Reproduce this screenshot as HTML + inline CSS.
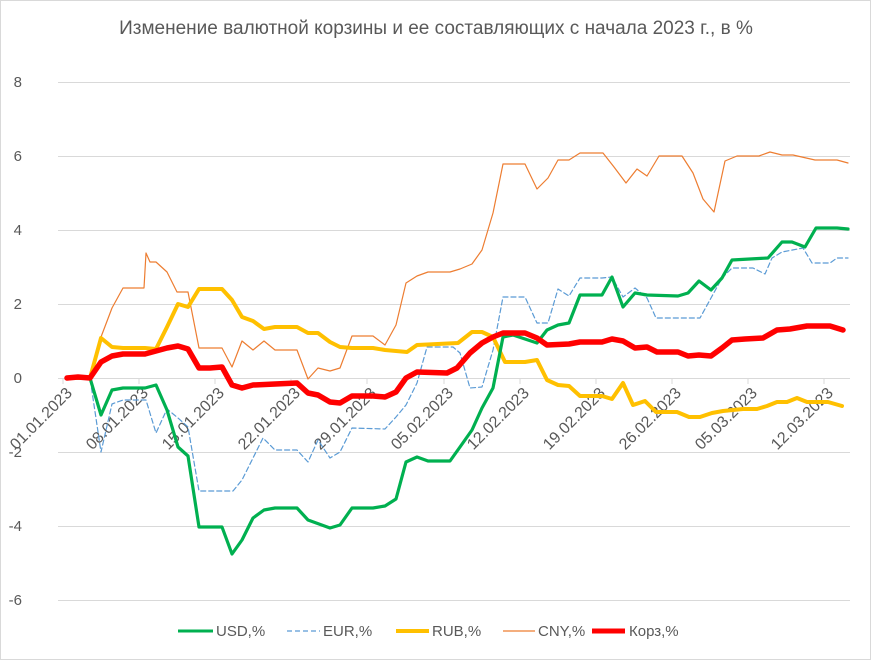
<!DOCTYPE html>
<html><head><meta charset="utf-8"><style>
body{margin:0;background:#fff}
svg{display:block;font-family:"Liberation Sans","DejaVu Sans",sans-serif}
</style></head><body>
<svg width="872" height="661" viewBox="0 0 872 661" xmlns="http://www.w3.org/2000/svg">
<rect x="0.5" y="0.5" width="870" height="659" fill="#fff" stroke="#d9d9d9"/>
<text x="436" y="34" text-anchor="middle" font-size="19" fill="#595959">Изменение валютной корзины и ее составляющих с начала 2023 г., в %</text>
<g stroke="#d9d9d9" stroke-width="1">
<line x1="58" y1="82.5" x2="850" y2="82.5"/>
<line x1="58" y1="156.5" x2="850" y2="156.5"/>
<line x1="58" y1="230.5" x2="850" y2="230.5"/>
<line x1="58" y1="304.5" x2="850" y2="304.5"/>
<line x1="58" y1="378.5" x2="850" y2="378.5"/>
<line x1="58" y1="452.5" x2="850" y2="452.5"/>
<line x1="58" y1="526.5" x2="850" y2="526.5"/>
<line x1="58" y1="600.5" x2="850" y2="600.5"/>
<line x1="63" y1="378" x2="63" y2="384"/><line x1="139" y1="378" x2="139" y2="384"/><line x1="215" y1="378" x2="215" y2="384"/><line x1="291" y1="378" x2="291" y2="384"/><line x1="367" y1="378" x2="367" y2="384"/><line x1="444" y1="378" x2="444" y2="384"/><line x1="520" y1="378" x2="520" y2="384"/><line x1="596" y1="378" x2="596" y2="384"/><line x1="672" y1="378" x2="672" y2="384"/><line x1="748" y1="378" x2="748" y2="384"/><line x1="824" y1="378" x2="824" y2="384"/>
</g>
<g font-size="15" fill="#595959" text-anchor="end">
<text x="22" y="87">8</text><text x="22" y="161">6</text><text x="22" y="235">4</text><text x="22" y="309">2</text><text x="22" y="383">0</text><text x="22" y="457">-2</text><text x="22" y="531">-4</text><text x="22" y="605">-6</text>
</g>
<g font-size="16" fill="#595959" text-anchor="end">
<text transform="translate(73,394) rotate(-45)">01.01.2023</text>
<text transform="translate(149,394) rotate(-45)">08.01.2023</text>
<text transform="translate(225,394) rotate(-45)">15.01.2023</text>
<text transform="translate(301,394) rotate(-45)">22.01.2023</text>
<text transform="translate(377,394) rotate(-45)">29.01.2023</text>
<text transform="translate(454,394) rotate(-45)">05.02.2023</text>
<text transform="translate(530,394) rotate(-45)">12.02.2023</text>
<text transform="translate(606,394) rotate(-45)">19.02.2023</text>
<text transform="translate(682,394) rotate(-45)">26.02.2023</text>
<text transform="translate(758,394) rotate(-45)">05.03.2023</text>
<text transform="translate(834,394) rotate(-45)">12.03.2023</text>
</g>
<g fill="none" stroke-linejoin="round" stroke-linecap="round">
<polyline stroke="#ed7d31" stroke-width="1.2" points="68,378 90,378 101,337 112,308 123,288 144,288 146,253 150,262 156,262 167,272 177,292 188,292 199,348 222,348 232,367 242,341 253,350 264,341 275,350 297,350 308,379 318,368 330,371 340,368 352,336 373,336 385,345 396,325 406,283 417,276 428,272 450,272 460,269 472,264 482,250 493,213 503,164 525,164 537,189 548,178 558,160 569,160 580,153 603,153 614,167 626,183 637,169 647,176 659,156 682,156 693,173 703,199 714,212 725,161 737,156 759,156 770,152 782,155 793,155 815,160 837,160 848,163"/>
<polyline stroke="#5b9bd5" stroke-width="1.2" stroke-dasharray="5,3" points="68,378 90,378 101,452 112,404 123,400 146,400 156,433 167,409 178,418 188,427 199,491 233,491 242,480 263,438 275,450 297,450 308,462 318,440 330,458 340,452 352,428 385,429 396,417 406,405 417,383 427,347 453,347 460,353 470,388 482,387 493,350 503,297 525,297 537,323 548,323 558,289 569,296 580,278 602,278 612,277 623,297 635,288 647,298 656,318 700,318 711,298 722,278 732,268 753,268 765,274 772,258 782,252 803,248 812,263 830,263 837,258 848,258"/>
<polyline stroke="#ffc000" stroke-width="4" points="68,378 90,378 101,338 112,347 123,348 145,348 156,349 167,327 178,304 188,307 199,289 222,289 232,300 242,317 253,321 264,329 275,327 297,327 308,333 318,333 330,342 340,347 352,348 373,348 385,350 407,352 417,345 458,343 472,332 482,332 493,337 505,362 525,362 537,360 547,380 558,385 569,386 580,396 602,396 612,399 623,383 633,405 645,401 656,412 677,412 689,417 700,417 712,413 723,411 743,409 757,409 767,406 777,402 787,402 797,398 807,402 828,402 842,406"/>
<polyline stroke="#00b050" stroke-width="3.2" points="68,378 90,378 101,415 112,390 123,388 145,388 156,385 167,410 178,447 188,456 199,527 222,527 232,554 242,540 253,518 264,510 275,508 297,508 308,520 330,528 340,525 352,508 373,508 385,506 396,499 406,462 417,457 428,461 450,461 460,447 472,430 482,408 493,388 503,337 513,335 537,343 547,330 558,325 569,323 580,295 602,295 612,277 623,307 635,293 647,295 678,296 688,293 699,281 711,290 722,278 732,260 768,258 782,242 792,242 805,247 816,228 837,228 848,229"/>
<polyline stroke="#ff0000" stroke-width="5.5" points="67,378 78,377 90,378 101,362 112,356 123,354 145,354 156,351 167,348 178,346 188,349 199,368 210,368 222,367 232,385 242,388 253,385 297,383 308,393 318,395 330,402 340,403 352,396 373,396 385,397 396,392 406,378 417,372 447,373 457,368 470,353 482,343 493,337 503,333 525,333 537,338 547,345 569,344 580,342 602,342 612,339 623,341 635,348 647,347 657,352 678,352 688,356 699,355 711,356 722,348 732,340 745,339 763,338 777,330 790,329 807,326 830,326 843,330"/>
</g>
<g font-size="15" fill="#595959">
<line x1="178" y1="631" x2="213" y2="631" stroke="#00b050" stroke-width="3"/><text x="216" y="636">USD,%</text>
<line x1="287" y1="631" x2="320" y2="631" stroke="#5b9bd5" stroke-width="1.2" stroke-dasharray="5,3"/><text x="323" y="636">EUR,%</text>
<line x1="396" y1="631" x2="429" y2="631" stroke="#ffc000" stroke-width="4"/><text x="432" y="636">RUB,%</text>
<line x1="503" y1="631" x2="535" y2="631" stroke="#ed7d31" stroke-width="1.2"/><text x="538" y="636">CNY,%</text>
<line x1="592" y1="631" x2="625" y2="631" stroke="#ff0000" stroke-width="5"/><text x="629" y="636">Корз,%</text>
</g>
</svg>
</body></html>
